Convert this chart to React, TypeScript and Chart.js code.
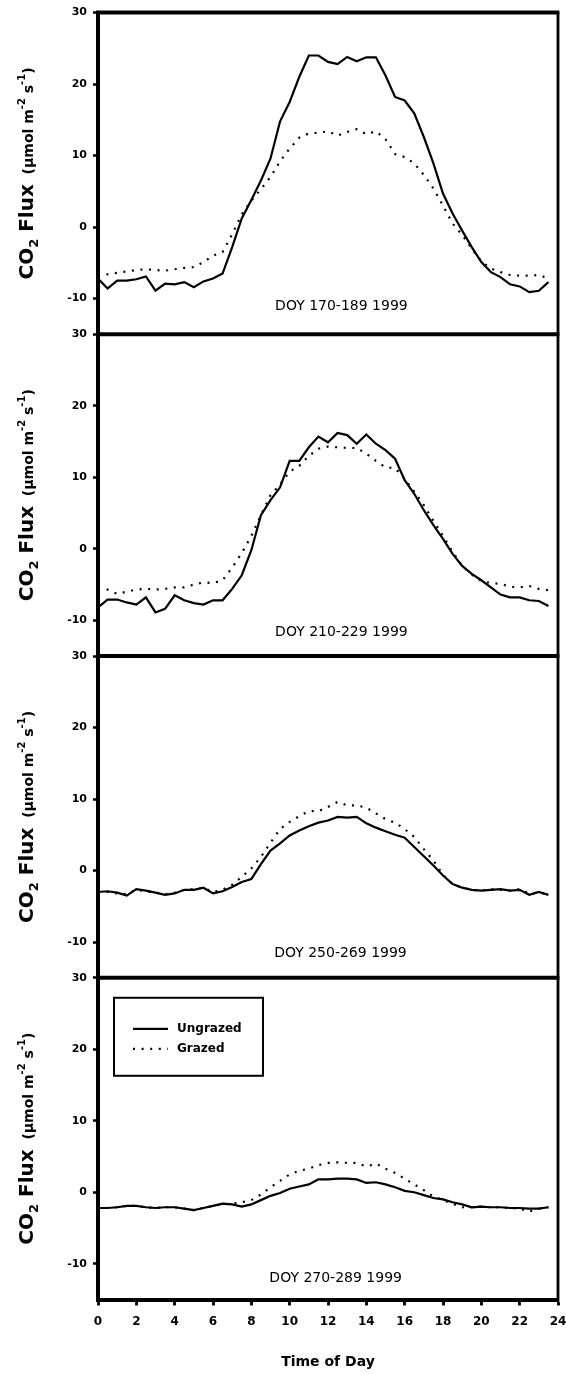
import React, { useEffect, useRef } from 'react';
import { Chart, registerables } from 'chart.js';

Chart.register(...registerables);

// ---------- data ----------
const HOURS = [
  0, 0.5, 1, 1.5, 2, 2.5, 3, 3.5, 4, 4.5, 5, 5.5, 6, 6.5, 7, 7.5, 8, 8.5, 9, 9.5, 10, 10.5, 11, 11.5,
  12, 12.5, 13, 13.5, 14, 14.5, 15, 15.5, 16, 16.5, 17, 17.5, 18, 18.5, 19, 19.5, 20, 20.5, 21, 21.5,
  22, 22.5, 23, 23.5,
];
const X_TICKS = [0, 2, 4, 6, 8, 10, 12, 14, 16, 18, 20, 22, 24];
const Y_TICKS = [-10, 0, 10, 20, 30];
const SERIES_NAMES = ['Ungrazed', 'Grazed'];
const PANEL_LABELS = ['DOY 170-189 1999', 'DOY 210-229 1999', 'DOY 250-269 1999', 'DOY 270-289 1999'];

const UNGRAZED_170 = [
  -7.2, -8.6, -7.5, -7.5, -7.3, -6.9, -8.9, -7.9, -8.0, -7.7, -8.4, -7.6, -7.2, -6.5, -2.8, 1.2,
  3.8, 6.5, 9.6, 14.8, 17.5, 21.0, 24.0, 24.0, 23.1, 22.8, 23.8, 23.2, 23.75, 23.75, 21.2, 18.2,
  17.7, 15.9, 12.6, 8.9, 4.7, 1.9, -0.5, -2.8, -4.9, -6.3, -7.0, -8.0, -8.3, -9.1, -8.9, -7.7,
];
const GRAZED_170 = [
  -6.9, -6.6, -6.4, -6.2, -6.0, -5.9, -6.0, -6.1, -5.9, -5.7, -5.6, -4.9, -4.0, -3.5, -1.0, 1.8,
  3.7, 5.3, 7.0, 9.2, 11.0, 12.5, 13.1, 13.2, 13.4, 12.8, 13.3, 13.7, 13.0, 13.4, 12.3, 10.2,
  9.8, 8.9, 7.3, 5.4, 3.0, 0.5, -1.1, -3.0, -4.8, -5.8, -6.3, -6.7, -6.8, -6.8, -6.7, -7.2,
];
const UNGRAZED_210 = [
  -8.2, -7.1, -7.1, -7.5, -7.8, -6.8, -8.9, -8.4, -6.5, -7.2, -7.6, -7.8, -7.2, -7.2, -5.6, -3.7,
  -0.2, 4.7, 6.8, 8.6, 12.3, 12.3, 14.2, 15.7, 14.9, 16.2, 15.9, 14.7, 16.0, 14.7, 13.8, 12.6,
  9.6, 7.7, 5.4, 3.3, 1.4, -0.7, -2.4, -3.5, -4.4, -5.4, -6.4, -6.8, -6.8, -7.2, -7.3, -8.0,
];
const GRAZED_210 = [
  -5.8, -5.7, -6.3, -6.0, -5.7, -5.6, -5.7, -5.6, -5.4, -5.4, -5.0, -4.7, -4.8, -4.4, -2.6, -0.6,
  1.8, 4.7, 7.5, 9.0, 10.8, 11.6, 13.0, 14.0, 14.3, 14.2, 14.1, 14.1, 13.3, 12.3, 11.4, 11.3,
  9.8, 8.0, 6.1, 3.9, 1.8, -0.4, -2.4, -3.6, -4.5, -4.8, -4.9, -5.3, -5.4, -5.2, -5.6, -5.8,
];
const UNGRAZED_250 = [
  -3.0, -2.9, -3.1, -3.5, -2.6, -2.8, -3.1, -3.4, -3.2, -2.7, -2.7, -2.4, -3.2, -2.9, -2.3, -1.6,
  -1.2, 0.9, 2.8, 3.8, 4.9, 5.6, 6.2, 6.7, 7.0, 7.5, 7.4, 7.5, 6.6, 6.0, 5.5, 5.0,
  4.6, 3.3, 2.0, 0.7, -0.7, -1.9, -2.4, -2.7, -2.8, -2.7, -2.6, -2.8, -2.7, -3.4, -3.0, -3.4,
];
const GRAZED_250 = [
  -3.0, -3.0, -3.2, -3.3, -2.7, -2.9, -3.1, -3.3, -3.1, -2.7, -2.6, -2.4, -3.0, -2.7, -2.0, -0.9,
  0.3, 1.9, 3.9, 5.8, 6.8, 7.6, 8.3, 8.3, 8.9, 9.6, 9.1, 9.1, 8.8, 8.0, 7.2, 6.7,
  5.8, 4.7, 3.0, 1.4, -0.6, -1.9, -2.4, -2.7, -2.8, -2.6, -2.7, -2.8, -2.6, -3.2, -3.1, -3.3,
];
const UNGRAZED_270 = [
  -2.2, -2.2, -2.1, -1.9, -1.9, -2.1, -2.2, -2.1, -2.1, -2.3, -2.5, -2.2, -1.9, -1.6, -1.7, -2.0,
  -1.7, -1.1, -0.5, -0.1, 0.5, 0.8, 1.1, 1.8, 1.8, 1.9, 1.9, 1.8, 1.3, 1.4, 1.1, 0.7,
  0.2, 0.0, -0.4, -0.8, -1.0, -1.4, -1.7, -2.1, -2.0, -2.1, -2.1, -2.2, -2.2, -2.3, -2.3, -2.1,
];
const GRAZED_270 = [
  -2.2, -2.2, -2.1, -1.9, -1.9, -2.1, -2.2, -2.1, -2.1, -2.3, -2.5, -2.2, -1.9, -1.7, -1.6, -1.4,
  -1.1, -0.3, 0.7, 1.6, 2.5, 3.0, 3.3, 3.8, 4.1, 4.2, 4.1, 4.1, 3.6, 4.0, 3.3, 2.7,
  1.9, 1.1, 0.3, -0.6, -1.1, -1.6, -2.1, -2.1, -2.0, -2.1, -2.1, -2.2, -2.3, -2.7, -2.3, -2.1,
];

// top to bottom
const PANELS = [
  { id: 'y1', ungrazed: UNGRAZED_170, grazed: GRAZED_170 },
  { id: 'y2', ungrazed: UNGRAZED_210, grazed: GRAZED_210 },
  { id: 'y3', ungrazed: UNGRAZED_250, grazed: GRAZED_250 },
  { id: 'y4', ungrazed: UNGRAZED_270, grazed: GRAZED_270 },
];

// annotation anchors (data units)
const LABEL_X = [12.7, 12.7, 12.65, 12.4];
const LABEL_Y = [-11.1, -11.7, -11.6, -12.0];

// ---------- styles ----------
const FONT = "'DejaVu Sans', sans-serif";
const DOT_DASH = [2, 6.6];
const LINE_W = 2.2;

function drawYTitle(ctx: CanvasRenderingContext2D, baseX: number, cy: number) {
  const segs = [
    { t: 'CO', s: 20, dy: 0 },
    { t: '2', s: 13, dy: 5 },
    { t: ' Flux', s: 20, dy: 0 },
    { t: '  (\u03bcmol m', s: 14, dy: 0 },
    { t: '-2', s: 10, dy: -8 },
    { t: ' s', s: 14, dy: 0 },
    { t: '-1', s: 10, dy: -8 },
    { t: ')', s: 14, dy: 0 },
  ];
  let total = 0;
  const widths = segs.map((sg) => {
    ctx.font = `bold ${sg.s}px ${FONT}`;
    const w = ctx.measureText(sg.t).width;
    total += w;
    return w;
  });
  ctx.save();
  ctx.translate(baseX, cy);
  ctx.rotate(-Math.PI / 2);
  ctx.textAlign = 'left';
  ctx.textBaseline = 'alphabetic';
  let x = -total / 2;
  segs.forEach((sg, i) => {
    ctx.font = `bold ${sg.s}px ${FONT}`;
    ctx.fillText(sg.t, x, sg.dy);
    x += widths[i];
  });
  ctx.restore();
}

const framePlugin = {
  id: 'frames',
  afterDraw(chart: any) {
    const { ctx, chartArea } = chart;
    const xs = chart.scales.x;
    ctx.save();
    ctx.strokeStyle = '#000';
    ctx.fillStyle = '#000';
    // right border
    ctx.lineWidth = 2.8;
    ctx.beginPath();
    ctx.moveTo(chartArea.right, chartArea.top);
    ctx.lineTo(chartArea.right, chartArea.bottom + 2);
    ctx.stroke();
    PANELS.forEach((p, i) => {
      const ys = chart.scales[p.id];
      ctx.lineWidth = 4;
      ctx.beginPath();
      ctx.moveTo(chartArea.left - 2, ys.top);
      ctx.lineTo(chartArea.right + 1.4, ys.top);
      ctx.stroke();
      ctx.font = `14px ${FONT}`;
      ctx.textAlign = 'center';
      ctx.textBaseline = 'middle';
      ctx.fillText(PANEL_LABELS[i], xs.getPixelForValue(LABEL_X[i]), ys.getPixelForValue(LABEL_Y[i]));
      drawYTitle(ctx, 33, (ys.top + ys.bottom) / 2);
    });
    // legend in last panel
    const y4 = chart.scales.y4;
    const lx = chartArea.left + 16;
    const ly = y4.top + 20;
    const lw = 149;
    const lh = 78;
    ctx.lineWidth = 2;
    ctx.strokeRect(lx, ly, lw, lh);
    const rows = [
      { name: SERIES_NAMES[0], dash: [] as number[] },
      { name: SERIES_NAMES[1], dash: DOT_DASH },
    ];
    rows.forEach((r, k) => {
      const yy = ly + 31 + k * 20;
      ctx.lineWidth = LINE_W;
      ctx.setLineDash(r.dash);
      ctx.beginPath();
      ctx.moveTo(lx + 19, yy);
      ctx.lineTo(lx + 54, yy);
      ctx.stroke();
      ctx.setLineDash([]);
      ctx.font = `bold 12px ${FONT}`;
      ctx.textAlign = 'left';
      ctx.textBaseline = 'middle';
      ctx.fillText(r.name, lx + 63, yy);
    });
    ctx.restore();
  },
};

export default function App() {
  const ref = useRef<HTMLCanvasElement | null>(null);

  useEffect(() => {
    document.body.style.margin = '0';
    document.body.style.background = '#fff';
    const canvas = ref.current;
    if (!canvas) return;

    const datasets: any[] = [];
    PANELS.forEach((p) => {
      datasets.push({
        label: SERIES_NAMES[0],
        data: HOURS.map((h, i) => ({ x: h, y: p.ungrazed[i] })),
        yAxisID: p.id,
        borderColor: '#000',
        borderWidth: LINE_W,
        pointRadius: 0,
        tension: 0,
        fill: false,
      });
      datasets.push({
        label: SERIES_NAMES[1],
        data: HOURS.map((h, i) => ({ x: h, y: p.grazed[i] })),
        yAxisID: p.id,
        borderColor: '#000',
        borderWidth: LINE_W,
        borderDash: DOT_DASH,
        pointRadius: 0,
        tension: 0,
        fill: false,
      });
    });

    const tickFont = { family: FONT, weight: 'bold' as const, size: 11 };
    const yScale = () => ({
      type: 'linear',
      position: 'left',
      stack: 'panels',
      stackWeight: 1,
      min: -15,
      max: 30,
      afterBuildTicks: (s: any) => {
        s.ticks = Y_TICKS.map((v) => ({ value: v }));
      },
      afterFit: (s: any) => {
        s.width = 98;
      },
      grid: {
        drawOnChartArea: false,
        drawTicks: true,
        tickLength: 5,
        tickWidth: 2.5,
        tickColor: '#000',
      },
      border: { display: true, width: 4, color: '#000' },
      ticks: { color: '#000', font: tickFont, padding: 6 },
    });

    // stacked axes are laid out bottom-first, so declare them bottom to top
    const scales: any = {};
    [...PANELS].reverse().forEach((p) => {
      scales[p.id] = yScale();
    });
    scales.x = {
      type: 'linear',
      position: 'bottom',
      min: 0,
      max: 24,
      afterBuildTicks: (s: any) => {
        s.ticks = X_TICKS.map((v) => ({ value: v }));
      },
      afterFit: (s: any) => {
        s.height = 74.5;
        s.paddingRight = 8;
        s.paddingLeft = 0;
      },
      grid: {
        drawOnChartArea: false,
        drawTicks: true,
        tickLength: 6,
        tickWidth: 2.8,
        tickColor: '#000',
      },
      border: { display: true, width: 4, color: '#000' },
      ticks: { color: '#000', font: { ...tickFont, size: 12 }, padding: 9, maxRotation: 0, autoSkip: false },
      title: {
        display: true,
        text: 'Time of Day',
        color: '#000',
        font: { family: FONT, weight: 'bold', size: 14 },
        padding: { top: 0, bottom: 3 },
      },
    };

    const chart = new Chart(canvas, {
      type: 'line',
      data: { datasets },
      plugins: [framePlugin],
      options: {
        responsive: false,
        animation: false,
        devicePixelRatio: 1,
        layout: { padding: { left: 0, right: 0, top: 12, bottom: 0 } },
        plugins: { legend: { display: false }, tooltip: { enabled: false } },
        scales,
      },
    } as any);

    return () => chart.destroy();
  }, []);

  return (
    <div style={{ width: 566, height: 1374, background: '#fff' }}>
      <canvas ref={ref} width={566} height={1374} style={{ display: 'block', width: 566, height: 1374 }} />
    </div>
  );
}
